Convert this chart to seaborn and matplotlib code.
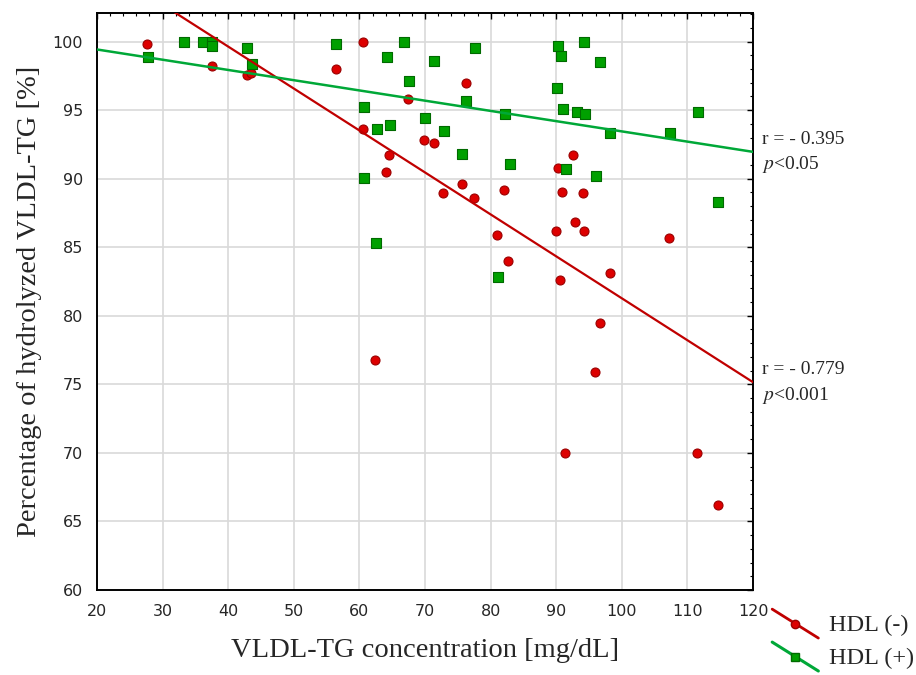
import numpy as np
import pandas as pd
import matplotlib
matplotlib.use("Agg")
import matplotlib.pyplot as plt
from matplotlib.lines import Line2D
from matplotlib.legend_handler import HandlerBase
from matplotlib.ticker import MultipleLocator
import seaborn as sns

# HDL (-) : red circles
neg_x = [27.6, 37.5, 42.8, 43.4, 56.5, 60.6, 60.6, 64.5, 64.0, 67.4, 69.8, 71.3,
         76.2, 75.6, 72.8, 77.5, 82.0, 90.2, 92.5, 90.9, 94.1, 80.9, 90.0, 92.9,
         94.3, 82.7, 90.6, 98.2, 96.6, 62.4, 95.9, 107.2, 91.4, 111.5, 114.6]
neg_y = [99.8, 98.25, 97.6, 97.7, 98.0, 99.98, 93.6, 91.75, 90.5, 95.8, 92.85, 92.6,
         97.0, 89.6, 88.95, 88.6, 89.15, 90.8, 91.75, 89.0, 88.95, 85.9, 86.2, 86.86,
         86.2, 84.0, 82.6, 83.1, 79.5, 76.8, 75.9, 85.7, 70.0, 70.0, 66.2]

# HDL (+) : green squares
pos_x = [27.7, 33.2, 36.2, 37.5, 37.5, 42.9, 43.6, 56.5, 66.8, 64.2, 71.4, 77.6,
         67.5, 60.7, 76.25, 82.2, 90.1, 90.3, 90.8, 94.2, 96.7, 91.0, 93.1, 94.4,
         98.2, 62.7, 64.6, 70.0, 72.9, 75.7, 60.7, 83.0, 91.5, 96.0, 111.65, 107.3,
         114.7, 62.5, 81.1]
pos_y = [98.9, 99.95, 99.95, 99.95, 99.65, 99.5, 98.4, 99.8, 99.95, 98.85, 98.6, 99.5,
         97.1, 95.2, 95.7, 94.75, 96.6, 99.66, 98.98, 99.95, 98.5, 95.1, 94.84, 94.72,
         93.3, 93.6, 93.9, 94.4, 93.5, 91.8, 90.05, 91.1, 90.7, 90.2, 94.84, 93.3,
         88.27, 85.3, 82.8]

groups = ["HDL (-)", "HDL (+)"]
stats_txt = {"HDL (-)": ("r = - 0.779", "<0.001"), "HDL (+)": ("r = - 0.395", "<0.05")}

df = pd.DataFrame({
    "conc": neg_x + pos_x,
    "pct": neg_y + pos_y,
    "group": [groups[0]] * len(neg_x) + [groups[1]] * len(pos_x),
})

sns.set_style("white")
plt.rcParams["font.family"] = ["DejaVu Sans"]
plt.rcParams["mathtext.fontset"] = "stix"
serif = "Liberation Serif"

fig = plt.figure(figsize=(9.16, 6.75), dpi=100)
ax = fig.add_axes([0.1059, 0.126, 0.7162, 0.855])
ax.set_xlim(20, 120)
ax.set_ylim(60, 102.1)

styles = {
    "HDL (-)": dict(marker="o", s=42, fc="#dd0000", ec="#9a0000", line="#c00000", lw=1.6),
    "HDL (+)": dict(marker="s", s=62, fc="#00a000", ec="#006a00", line="#00a838", lw=1.8),
}

# scatter + fitted line per group, extended over the full x range
for g in groups:
    st = styles[g]
    sns.regplot(
        data=df[df["group"] == g], x="conc", y="pct", ax=ax, ci=None, truncate=False,
        marker=st["marker"],
        scatter_kws=dict(s=st["s"], facecolor=st["fc"], edgecolor=st["ec"],
                         linewidths=0.8, alpha=1, zorder=3),
        line_kws=dict(color=st["line"], lw=st["lw"], zorder=4),
    )

# grid, ticks, spines
ax.xaxis.set_major_locator(MultipleLocator(10))
ax.xaxis.set_minor_locator(MultipleLocator(2))
ax.yaxis.set_major_locator(MultipleLocator(5))
ax.yaxis.set_minor_locator(MultipleLocator(1))
ax.grid(True, which="major", color="#d9d9d9", lw=1.2)
ax.set_axisbelow(True)
ax.tick_params(which="both", direction="in", top=True, right=True, color="black")
ax.tick_params(which="major", length=4, width=1, labelsize=11.5, pad=10)
ax.tick_params(which="minor", length=2.5, width=0.8)
for sp in ax.spines.values():
    sp.set_color("black")
    sp.set_linewidth(1.4)

ax.set_xlabel("VLDL-TG concentration [mg/dL]", fontsize=20.5, fontfamily=serif, labelpad=14)
ax.set_ylabel("Percentage of hydrolyzed VLDL-TG [%]", fontsize=20.5, fontfamily=serif, labelpad=8)

# r / p annotations next to line ends
ann_y = {"HDL (-)": (76.05, 74.2), "HDL (+)": (92.85, 91.0)}
for g in groups:
    r_txt, p_txt = stats_txt[g]
    y1, y2 = ann_y[g]
    ax.text(121.3, y1, r_txt, fontsize=14, fontfamily=serif, va="center", clip_on=False)
    ax.text(121.3, y2, "$p$" + p_txt, fontsize=14, fontfamily=serif, va="center", clip_on=False)


# slanted line+marker legend keys
class SlantHandler(HandlerBase):
    def create_artists(self, legend, orig_handle, xdescent, ydescent, width, height, fontsize, trans):
        ln = Line2D([0, width], [height * 1.3, -height * 0.4], color=orig_handle.get_color(),
                    lw=orig_handle.get_linewidth(), transform=trans)
        mk = Line2D([width * 0.5], [height * 0.45], marker=orig_handle.get_marker(), ls="",
                    markersize=orig_handle.get_markersize(),
                    markerfacecolor=orig_handle.get_markerfacecolor(),
                    markeredgecolor=orig_handle.get_markeredgecolor(), transform=trans)
        return [ln, mk]


handles = [
    Line2D([], [], color=styles[g]["line"], lw=styles[g]["lw"] + 0.4, marker=styles[g]["marker"],
           markersize=6, markerfacecolor=styles[g]["fc"], markeredgecolor=styles[g]["ec"])
    for g in groups
]
fig.legend(handles, groups, loc="upper left", bbox_to_anchor=(0.843, 0.09),
           frameon=False, prop=dict(family=serif, size=17.5), handlelength=1.9,
           handletextpad=0.45, labelspacing=0.45, borderpad=0, borderaxespad=0,
           handler_map={Line2D: SlantHandler()})

fig.savefig("out.png", dpi=100)
